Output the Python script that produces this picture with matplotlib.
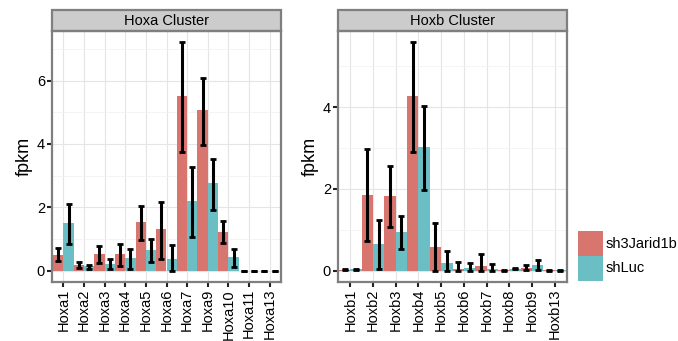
import matplotlib
matplotlib.use("Agg")
import matplotlib.pyplot as plt
import numpy as np
from matplotlib.patches import Rectangle

plt.rcParams['font.family'] = ['Liberation Sans', 'DejaVu Sans']

# Hoxa cluster
hoxa_genes = ['Hoxa1', 'Hoxa2', 'Hoxa3', 'Hoxa4', 'Hoxa5', 'Hoxa6', 'Hoxa7', 'Hoxa9', 'Hoxa10', 'Hoxa11', 'Hoxa13']
hoxa_kd = [0.50, 0.19, 0.53, 0.53, 1.53, 1.31, 5.51, 5.06, 1.23, 0.0, 0.0]
hoxa_kd_lo = [0.30, 0.08, 0.25, 0.16, 0.97, 0.38, 3.74, 3.98, 0.87, 0.0, 0.0]
hoxa_kd_hi = [0.70, 0.28, 0.77, 0.84, 2.03, 2.17, 7.21, 6.08, 1.57, 0.0, 0.0]
hoxa_luc = [1.50, 0.13, 0.21, 0.39, 0.65, 0.37, 2.20, 2.76, 0.42, 0.0, 0.0]
hoxa_luc_lo = [0.83, 0.04, 0.05, 0.05, 0.28, 0.0, 1.07, 1.92, 0.11, 0.0, 0.0]
hoxa_luc_hi = [2.10, 0.19, 0.36, 0.67, 0.99, 0.82, 3.27, 3.53, 0.67, 0.0, 0.0]

# Hoxb cluster
hoxb_genes = ['Hoxb1', 'Hoxb2', 'Hoxb3', 'Hoxb4', 'Hoxb5', 'Hoxb6', 'Hoxb7', 'Hoxb8', 'Hoxb9', 'Hoxb13']
hoxb_kd = [0.02, 1.86, 1.83, 4.27, 0.59, 0.05, 0.11, 0.01, 0.07, 0.01]
hoxb_kd_lo = [0.01, 0.73, 1.08, 2.91, 0.0, 0.0, 0.0, 0.0, 0.02, 0.0]
hoxb_kd_hi = [0.03, 2.99, 2.57, 5.59, 1.17, 0.20, 0.40, 0.02, 0.14, 0.02]
hoxb_luc = [0.03, 0.64, 0.94, 3.02, 0.19, 0.06, 0.04, 0.05, 0.14, 0.01]
hoxb_luc_lo = [0.01, 0.03, 0.53, 1.97, 0.0, 0.0, 0.0, 0.03, 0.02, 0.0]
hoxb_luc_hi = [0.05, 1.23, 1.33, 4.02, 0.47, 0.19, 0.16, 0.07, 0.25, 0.02]

groups = ['sh3Jarid1b', 'shLuc']
colors = ['#D8756F', '#6BBEC3']


def panel(ax, genes, kd, kd_lo, kd_hi, luc, luc_lo, luc_hi, title, ymax, yticks):
    x = np.arange(len(genes))
    w = 0.5
    for off, vals, lo, hi, c in [(-w / 2, kd, kd_lo, kd_hi, colors[0]),
                                 (w / 2, luc, luc_lo, luc_hi, colors[1])]:
        vals = np.array(vals)
        ax.bar(x + off, vals, width=w, color=c, zorder=2)
        err = [vals - np.array(lo), np.array(hi) - vals]
        ax.errorbar(x + off, vals, yerr=err, fmt='none', ecolor='black',
                    elinewidth=2.2, capsize=2.3, capthick=2.0, zorder=3)
    ax.set_xlim(-0.55, len(genes) - 0.45)
    ax.set_ylim(-0.05 * ymax, 1.05 * ymax)
    ax.set_xticks(x)
    ax.set_xticklabels(genes, rotation=90, fontsize=10.5)
    ax.set_yticks(yticks)
    ax.set_yticks([t + 1 for t in yticks if t + 1 < 1.05 * ymax], minor=True)
    ax.tick_params(axis='y', which='minor', length=0)
    ax.tick_params(axis='both', which='major', length=3.5, width=1.5,
                   color='#222222', labelsize=10.5, pad=1.5)
    ax.grid(True, which='major', color='#E5E5E5', lw=0.8, zorder=0)
    ax.grid(True, which='minor', axis='y', color='#F2F2F2', lw=0.6, zorder=0)
    ax.set_axisbelow(True)
    for s in ax.spines.values():
        s.set_color('#7F7F7F')
        s.set_linewidth(1.6)
    ax.set_ylabel('fpkm', fontsize=13, labelpad=3)
    # facet strip
    ax.add_patch(Rectangle((0, 1.0), 1, 0.083, transform=ax.transAxes,
                           facecolor='#CCCCCC', edgecolor='#7F7F7F', lw=1.6,
                           clip_on=False))
    ax.text(0.5, 1.0415, title, transform=ax.transAxes, ha='center',
            va='center', fontsize=10.5)


fig = plt.figure(figsize=(6.78, 3.41), dpi=100)
ax1 = fig.add_axes([52 / 678, 59 / 341, 229 / 678, 251 / 341])
ax2 = fig.add_axes([338 / 678, 59 / 341, 229 / 678, 251 / 341])

panel(ax1, hoxa_genes, hoxa_kd, hoxa_kd_lo, hoxa_kd_hi, hoxa_luc, hoxa_luc_lo,
      hoxa_luc_hi, 'Hoxa Cluster', 7.21, [0, 2, 4, 6])
panel(ax2, hoxb_genes, hoxb_kd, hoxb_kd_lo, hoxb_kd_hi, hoxb_luc, hoxb_luc_lo,
      hoxb_luc_hi, 'Hoxb Cluster', 5.59, [0, 2, 4])

# legend
for i, (g, c) in enumerate(zip(groups, colors)):
    y0 = 1 - (231 + 25 * i + 25) / 341
    fig.add_artist(Rectangle((578 / 678, y0), 25 / 678, 25 / 341,
                             transform=fig.transFigure, facecolor=c, edgecolor='none'))
    fig.text(606 / 678, y0 + 12.5 / 341, g, ha='left', va='center', fontsize=10.5)

plt.savefig('out.png', dpi=100)
